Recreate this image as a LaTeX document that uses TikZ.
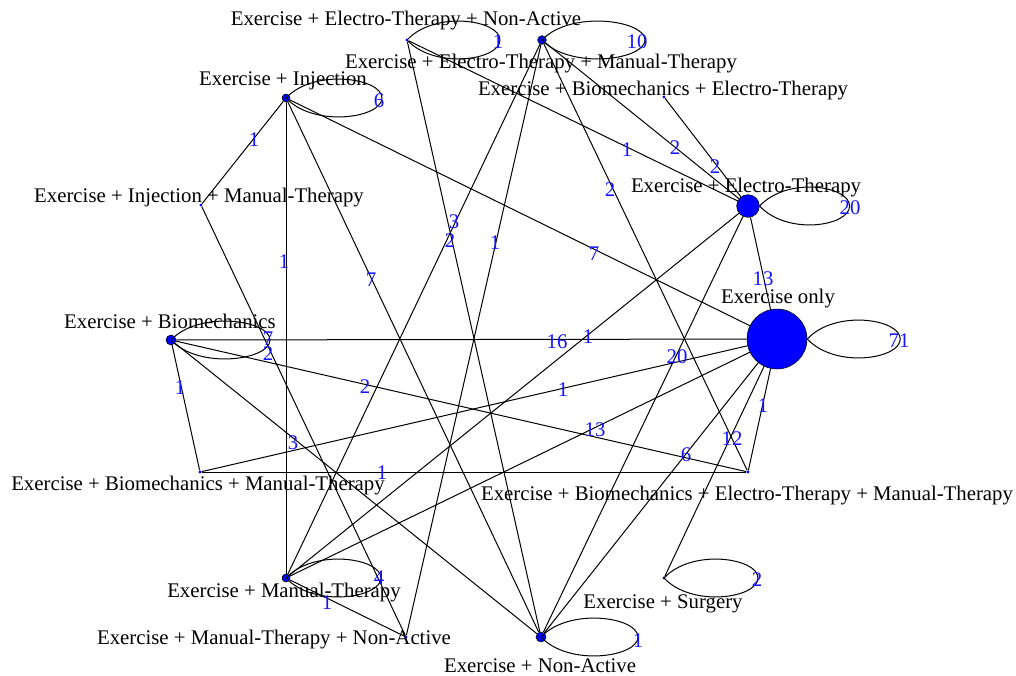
\documentclass[tikz,border=0pt]{standalone}
\usepackage{fontspec}
\setmainfont{Liberation Serif}
\definecolor{nblue}{RGB}{0,0,255}
\definecolor{eblue}{RGB}{20,20,255}
\newcommand{\drawloop}[2]{\draw[edge] (#1) .. controls +(28,-30) and +(0,-20) .. ++(#2,0) .. controls +(0,20) and +(28,30) .. (#1);}
\begin{document}
\begin{tikzpicture}[x=0.75pt,y=-0.75pt,
  every node/.style={font=\fontsize{15.6}{18}\selectfont},
  dot/.style={circle, fill=nblue, draw=black, line width=0.4pt, inner sep=0pt},
  tinydot/.style={circle, fill=nblue, inner sep=0pt, minimum size=2.4pt},
  lab/.style={text=black, inner sep=0pt, yshift=-1.9pt},
  elab/.style={text=eblue, inner sep=0pt},
  edge/.style={line width=0.75pt, black}]
\useasboundingbox (0,0) rectangle (1016,675);

% node labels
\node[lab] (t-eo) at (778,296) {Exercise only};
\node[lab] (t-eet) at (746,185) {Exercise + Electro-Therapy};
\node[lab] (t-ebet) at (663,88) {Exercise + Biomechanics + Electro-Therapy};
\node[lab] (t-eetmt) at (541,61) {Exercise + Electro-Therapy + Manual-Therapy};
\node[lab] (t-eetna) at (406,18) {Exercise + Electro-Therapy + Non-Active};
\node[lab] (t-ei) at (283,78) {Exercise + Injection};
\node[lab] (t-eimt) at (199,195) {Exercise + Injection + Manual-Therapy};
\node[lab] (t-eb) at (170,319) {Exercise + Biomechanics};
\node[lab] (t-ebmt) at (198,483) {Exercise + Biomechanics + Manual-Therapy};
\node[lab] (t-emt) at (284,590) {Exercise + Manual-Therapy};
\node[lab] (t-emtna) at (274,637) {Exercise + Manual-Therapy + Non-Active};
\node[lab] (t-ena) at (540,663) {Exercise + Non-Active};
\node[lab] (t-es) at (663,601) {Exercise + Surgery};
\node[lab] (t-ebetmt) at (747,493) {Exercise + Biomechanics + Electro-Therapy + Manual-Therapy};

% nodes
\node[dot, minimum size=45pt] (eo) at (777,339) {};
\node[dot, minimum size=17pt] (eet) at (748,206) {};
\node[tinydot] (ebet) at (664,97) {};
\node[dot, minimum size=6.5pt] (eetmt) at (542,40) {};
\node[tinydot] (eetna) at (407,40) {};
\node[dot, minimum size=6pt] (ei) at (286,98) {};
\node[tinydot] (eimt) at (201,205) {};
\node[dot, minimum size=7.5pt] (eb) at (171,340) {};
\node[tinydot] (ebmt) at (200,472) {};
\node[dot, minimum size=6pt] (emt) at (286,578) {};
\node[tinydot] (emtna) at (406,637) {};
\node[dot, minimum size=7.5pt] (ena) at (541,637) {};
\node[tinydot] (es) at (664,578) {};
\node[tinydot] (ebetmt) at (748,472) {};

% edges
\draw[edge] (eo) -- (eet);
\draw[edge] (eo) -- (eb);
\draw[edge] (eo) -- (ei);
\draw[edge] (eo) -- (ebmt);
\draw[edge] (eo) -- (emt);
\draw[edge] (eo) -- (ena);
\draw[edge] (eo) -- (es);
\draw[edge] (eo) -- (ebetmt);
\draw[edge] (eet) -- (ena);
\draw[edge] (eet) -- (emt);
\draw[edge] (eet) -- (eetna);
\draw[edge] (eet) -- (eetmt);
\draw[edge] (eet) -- (ebet);
\draw[edge] (eetmt) -- (ebetmt);
\draw[edge] (eetmt) -- (emt);
\draw[edge] (eetmt) -- (emtna);
\draw[edge] (eetna) -- (ena);
\draw[edge] (ei) -- (emt);
\draw[edge] (ei) -- (ena);
\draw[edge] (ei) -- (eimt);
\draw[edge] (eb) -- (ebetmt);
\draw[edge] (eb) -- (ebmt);
\draw[edge] (eb) -- (ena);
\draw[edge] (eimt) -- (emtna);
\draw[edge] (ebmt) -- (ebetmt);
\draw[edge] (emt) -- (emtna);

% loops
\drawloop{eo.east}{93}
\drawloop{eet.east}{90}
\drawloop{eetmt.center}{103}
\drawloop{eetna.center}{93}
\drawloop{ei.center}{96}
\drawloop{eb.center}{99}
\drawloop{emt.center}{95}
\drawloop{es.center}{94}
\drawloop{ena.center}{97}

% loop labels
\node[elab] (l-eo) at (899,341) {71};
\node[elab] (l-eet) at (850,208) {20};
\node[elab] (l-eetmt) at (637,42) {10};
\node[elab] (l-eetna) at (498,42) {1};
\node[elab] (l-ei) at (379,101) {6};
\node[elab] (l-eb) at (268,339) {7};
\node[elab] (l-emt) at (379,578) {4};
\node[elab] (l-es) at (757,580) {2};
\node[elab] (l-ena) at (638,641) {1};

% edge labels
\node[elab] (e1) at (763,279) {13};
\node[elab] (e2) at (557,342) {16};
\node[elab] (e3) at (594,254) {7};
\node[elab] (e4) at (563,390) {1};
\node[elab] (e5) at (595,430) {13};
\node[elab] (e6) at (686,455) {6};
\node[elab] (e7) at (732,439) {12};
\node[elab] (e8) at (763,406) {1};
\node[elab] (e9) at (677,357) {20};
\node[elab] (e10) at (588,337) {1};
\node[elab] (e11) at (627,150) {1};
\node[elab] (e12) at (675,148) {2};
\node[elab] (e13) at (715,167) {2};
\node[elab] (e14) at (610,190) {2};
\node[elab] (e15) at (454,222) {3};
\node[elab] (e16) at (495,243) {1};
\node[elab] (e17) at (450,241) {2};
\node[elab] (e18) at (284,262) {1};
\node[elab] (e19) at (371,280) {7};
\node[elab] (e20) at (254,140) {1};
\node[elab] (e21) at (365,387) {2};
\node[elab] (e22) at (180,388) {1};
\node[elab] (e23) at (293,443) {3};
\node[elab] (e24) at (268,354) {2};
\node[elab] (e25) at (382,473) {1};
\node[elab] (e26) at (327,603) {1};
\end{tikzpicture}
\end{document}
